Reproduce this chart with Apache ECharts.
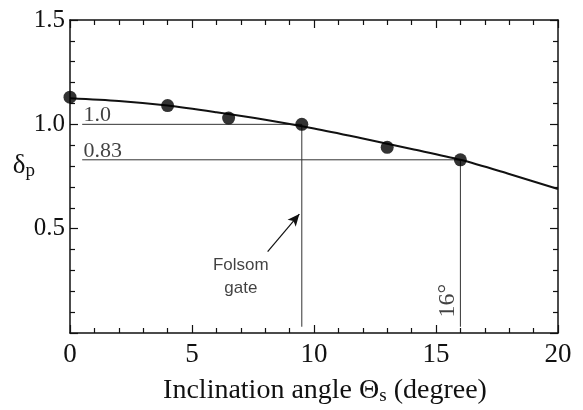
<!DOCTYPE html>
<html>
<head>
<meta charset="utf-8">
<script src="https://cdn.jsdelivr.net/npm/echarts@6/dist/echarts.min.js"></script>
<style>
  html, body { margin: 0; padding: 0; background: #fff; }
  #chart { width: 583px; height: 410px; }
</style>
</head>
<body>
<div id="chart"></div>
<script>
// measured points
var ptAngle = [0, 4, 6.5, 9.5, 13, 16];
var ptDelta = [1.13, 1.09, 1.03, 1.0, 0.89, 0.83];

// fitted curve
var curveAngle = [0, 2, 4, 6, 8, 10, 12, 14, 16, 18, 20];
var curveDelta = [1.125, 1.112, 1.09, 1.058, 1.022, 0.98, 0.932, 0.882, 0.83, 0.762, 0.69];

// guide lines (horizontal from guideStart to the angle, then down to the axis)
var guideStart = 0.5;
var guideBottom = 0.03;
var guideAngle = [9.5, 16];
var guideDelta = [1.0, 0.83];
var guideText = ['1.0', '0.83'];

// arrow pointing at the Folsom gate line
var arrowFrom = [8.1, 0.39];
var arrowTo = [9.4, 0.57];

var xTicks = [0, 5, 10, 15, 20];
var yTicks = [0.5, 1.0, 1.5];

var serif = '"Liberation Serif", "DejaVu Serif", serif';
var sans = '"Liberation Sans", Arial, sans-serif';

var pts = [];
for (var i = 0; i < ptAngle.length; i++) pts.push([ptAngle[i], ptDelta[i]]);
var curve = [];
for (var i = 0; i < curveAngle.length; i++) curve.push([curveAngle[i], curveDelta[i]]);

var guideSeries = [];
var guideLabels = [];
for (var i = 0; i < guideAngle.length; i++) {
  guideSeries.push({
    type: 'line',
    data: [[guideStart, guideDelta[i]], [guideAngle[i], guideDelta[i]], [guideAngle[i], guideBottom]],
    symbol: 'none',
    lineStyle: { color: '#333', width: 1 },
    z: 1,
    silent: true
  });
  guideLabels.push({ value: [guideStart + 0.05, guideDelta[i]], name: guideText[i] });
}

var tickAxis = {
  type: 'value',
  axisLine: { onZero: false, lineStyle: { color: '#111', width: 1.5 } },
  axisTick: { inside: true, length: 8, lineStyle: { color: '#111', width: 1.2 } },
  minorTick: { show: true, splitNumber: 5, length: 5, lineStyle: { color: '#111', width: 1.2 } },
  splitLine: { show: false },
  minorSplitLine: { show: false }
};

function axis(extra) {
  var o = JSON.parse(JSON.stringify(tickAxis));
  for (var k in extra) o[k] = extra[k];
  return o;
}

var option = {
  animation: false,
  backgroundColor: '#fff',
  grid: { left: 70, right: 25, top: 20, bottom: 77, outerBoundsMode: 'none' },
  xAxis: [
    axis({
      min: 0, max: 20, interval: 5, position: 'bottom',
      axisLabel: {
        color: '#111', fontFamily: serif, fontSize: 27, margin: 8,
        formatter: function (v) { return xTicks.indexOf(v) >= 0 ? String(v) : ''; }
      },
      name: '{a|Inclination angle Θ}{s|s}{a| (degree)}',
      nameLocation: 'middle',
      nameGap: 42,
      nameMoveOverlap: false,
      nameTextStyle: {
        padding: [0, 0, 0, 22],
        rich: {
          a: { fontFamily: serif, fontSize: 28, color: '#111' },
          s: { fontFamily: serif, fontSize: 19, color: '#111', padding: [12, 0, 0, 0] }
        }
      }
    }),
    axis({ min: 0, max: 20, interval: 5, position: 'top', axisLabel: { show: false } })
  ],
  yAxis: [
    axis({
      min: 0, max: 1.5, interval: 0.5, position: 'left',
      axisLabel: {
        color: '#111', fontFamily: serif, fontSize: 25, margin: 5,
        formatter: function (v) {
          for (var j = 0; j < yTicks.length; j++) if (Math.abs(yTicks[j] - v) < 1e-6) return v.toFixed(1);
          return '';
        }
      },
      name: '{d|δ}{p|p}',
      nameLocation: 'middle',
      nameRotate: 0,
      nameGap: 35,
      nameMoveOverlap: false,
      nameTextStyle: {
        padding: [0, 0, 22, 0],
        rich: {
          d: { fontFamily: serif, fontSize: 27, color: '#111' },
          p: { fontFamily: serif, fontSize: 19, color: '#111', padding: [12, 0, 0, 0] }
        }
      }
    }),
    axis({ min: 0, max: 1.5, interval: 0.5, position: 'right', axisLabel: { show: false } })
  ],
  series: guideSeries.concat([
    {
      type: 'line',
      data: curve,
      smooth: 0.3,
      symbol: 'none',
      lineStyle: { color: '#111', width: 2 },
      z: 2,
      markLine: {
        silent: true,
        symbol: ['none', 'arrow'],
        symbolSize: [8, 12],
        label: { show: false },
        lineStyle: { color: '#111', width: 1.2, type: 'solid' },
        data: [[{ coord: arrowFrom }, { coord: arrowTo }]]
      }
    },
    {
      type: 'scatter',
      data: pts,
      symbol: 'circle',
      symbolSize: 13,
      itemStyle: { color: '#000' },
      z: 3
    },
    {
      type: 'scatter',
      data: guideLabels,
      symbolSize: 0,
      silent: true,
      label: {
        show: true,
        position: [0, 2],
        align: 'left',
        verticalAlign: 'bottom',
        formatter: '{b}',
        fontFamily: serif,
        fontSize: 22,
        color: '#111'
      }
    },
    {
      type: 'scatter',
      data: [{ value: [7.0, 0.27], name: 'Folsom\ngate' }],
      symbolSize: 0,
      silent: true,
      label: {
        show: true, position: 'inside', formatter: '{b}',
        fontFamily: sans, fontSize: 17, lineHeight: 23, color: '#111', align: 'center'
      }
    },
    {
      type: 'scatter',
      data: [{ value: [15.5, 0.155], name: '16°' }],
      symbolSize: 0,
      silent: true,
      label: {
        show: true, position: 'inside', formatter: '{b}', rotate: 90,
        fontFamily: serif, fontSize: 24, color: '#111'
      }
    }
  ])
};

var myChart = echarts.init(document.getElementById('chart'), null, { renderer: 'canvas' });
myChart.setOption(option);
</script>
</body>
</html>
